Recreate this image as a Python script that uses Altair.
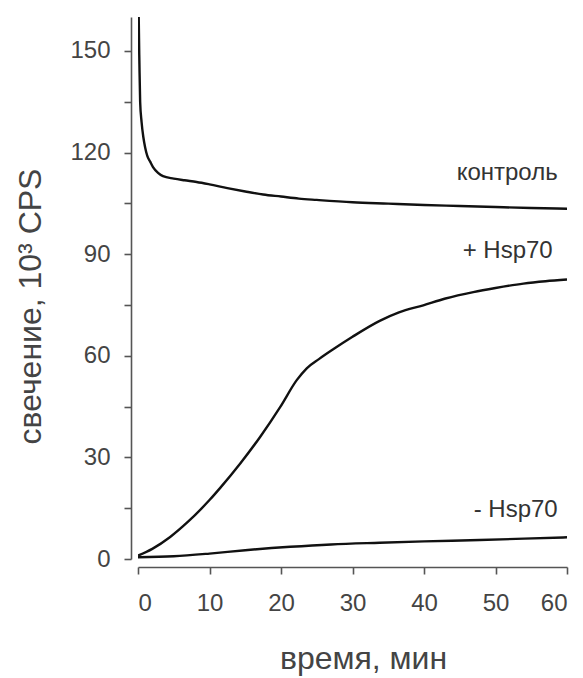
import altair as alt
import pandas as pd

# Time (min) and luminescence (10^3 CPS) for each trace
control_t = [0.05, 0.1, 0.2, 0.3, 0.5, 0.75, 1.0, 1.3, 1.7, 2.1, 2.8, 3.5, 5, 6.5, 8.2, 10, 12.5,
             15, 17.5, 20, 22.5, 25, 30, 35, 40, 45, 50, 55, 60]
control_v = [172, 160, 146, 135, 129, 124.5, 121.5, 119, 117.3, 115.7, 114, 113, 112.3, 111.8,
             111.3, 110.6, 109.5, 108.5, 107.6, 107.0, 106.4, 106.0, 105.3, 104.9, 104.5, 104.2,
             103.9, 103.6, 103.4]

plus_t = [0, 2, 4.5, 7, 10, 11.5, 14.3, 17.1, 19.9, 22.2, 23.6, 25.3, 27.3, 30, 33.8, 36.5,
          39.9, 43, 46.9, 50, 53.9, 57, 60]
plus_v = [1.0, 3.0, 6.5, 11, 17.4, 21.0, 28.2, 36.1, 44.9, 52.8, 56.3, 59.0, 61.9, 65.6, 70.3,
          72.8, 74.9, 76.9, 78.8, 80.0, 81.3, 82.0, 82.5]

minus_t = [0, 5, 10, 15, 21.3, 27, 33.8, 40, 47.8, 54, 60]
minus_v = [0.5, 0.8, 1.6, 2.6, 3.6, 4.3, 4.8, 5.2, 5.6, 6.0, 6.4]

series_names = ["контроль", "+ Hsp70", "- Hsp70"]
label_t = [58.7, 58.0, 58.7]
label_v = [113.9, 91.0, 14.5]

rows = []
for name, ts, vs in zip(series_names, [control_t, plus_t, minus_t], [control_v, plus_v, minus_v]):
    rows += [{"series": name, "t": t, "v": v} for t, v in zip(ts, vs)]
curves = pd.DataFrame(rows)
labels = pd.DataFrame({"text": series_names, "t": label_t, "v": label_v})

x_scale = alt.Scale(domain=[0, 60], nice=False)
y_scale = alt.Scale(domain=[0, 160], nice=False)

x_axis = alt.Axis(
    title="время, мин",
    values=list(range(0, 61, 5)),
    labelExpr="datum.value % 10 == 0 ? datum.label : ''",
    offset=8, tickSize=7, labelPadding=17, titlePadding=28, titleX=225,
    grid=False,
)
y_axis = alt.Axis(
    title="свечение, 10³ CPS",
    values=list(range(0, 151, 15)),
    labelExpr="datum.value % 30 == 0 ? datum.label : ''",
    offset=7, tickSize=7, labelPadding=14, titleX=-91, titleY=289,
    titleBaseline="alphabetic", grid=False,
)

lines = alt.Chart(curves).mark_line(
    color="#111111", strokeWidth=2.4, interpolate="monotone", clip=True
).encode(
    x=alt.X("t:Q", scale=x_scale, axis=x_axis),
    y=alt.Y("v:Q", scale=y_scale, axis=y_axis),
    detail="series:N",
)

texts = alt.Chart(labels).mark_text(
    align="right", baseline="middle", fontSize=24, color="#333333", font="Liberation Sans"
).encode(
    x=alt.X("t:Q", scale=x_scale),
    y=alt.Y("v:Q", scale=y_scale),
    text="text:N",
)

chart = (
    alt.layer(lines, texts)
    .properties(
        width=429, height=542,
        autosize=alt.AutoSizeParams(type="none"),
        padding={"left": 138, "top": 17, "right": 16, "bottom": 119},
    )
    .configure_view(stroke=None)
    .configure_axis(
        domainColor="#555555", domainWidth=1.6,
        tickColor="#555555", tickWidth=1.6,
        labelFont="Liberation Sans", labelFontSize=24, labelColor="#444444",
        titleFont="Liberation Sans", titleFontSize=32, titleColor="#444444",
        titleFontWeight="normal",
    )
)

chart.save("out.html", embed_options={"renderer": "svg", "actions": False})
